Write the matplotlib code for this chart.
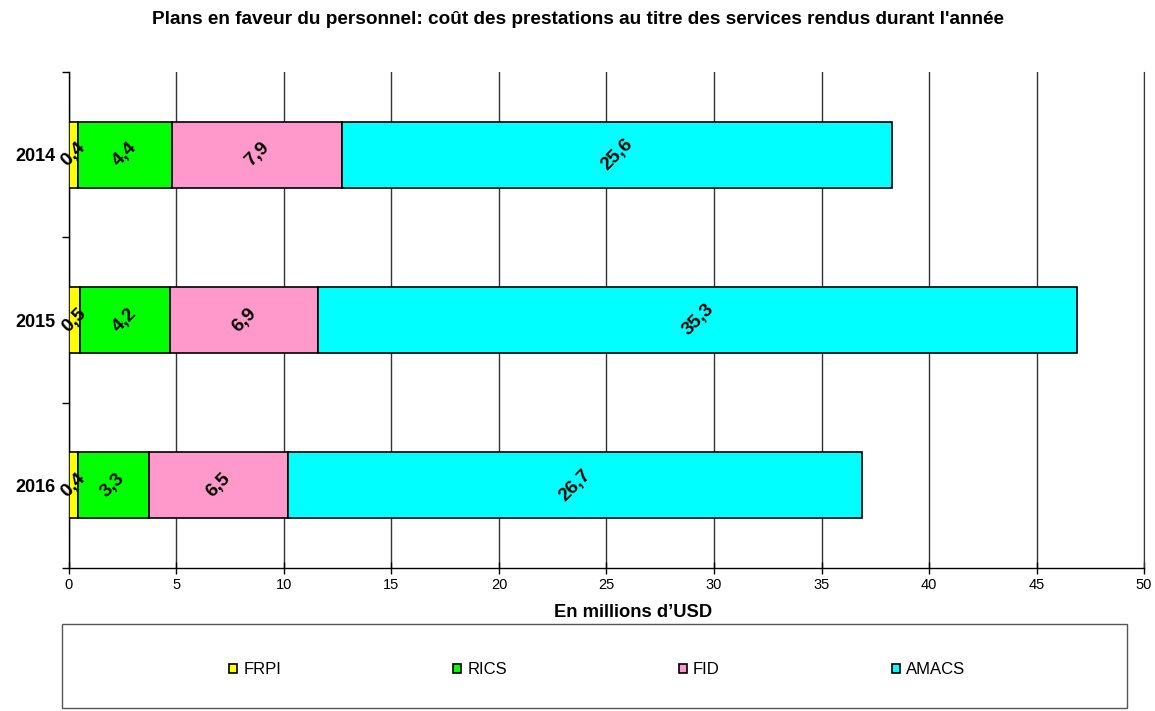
import matplotlib
matplotlib.use("Agg")
import matplotlib.pyplot as plt
from matplotlib.patches import Rectangle
import numpy as np

plt.rcParams["font.family"] = ["Liberation Sans", "DejaVu Sans"]

years = ["2014", "2015", "2016"]
series = ["FRPI", "RICS", "FID", "AMACS"]
frpi = [0.4, 0.5, 0.4]
rics = [4.4, 4.2, 3.3]
fid = [7.9, 6.9, 6.5]
amacs = [25.6, 35.3, 26.7]
colors = ["#ffff00", "#00ff00", "#ff99cc", "#00ffff"]

fig = plt.figure(figsize=(11.55, 7.11), dpi=100)
ax = fig.add_axes([0.0597, 0.2011, 0.9308, 0.6976])

ypos = np.arange(len(years))
left = np.zeros(len(years))
handles = []
for name, vals, c in zip(series, [frpi, rics, fid, amacs], colors):
    vals = np.array(vals)
    bars = ax.barh(ypos, vals, left=left, height=0.4, color=c,
                   edgecolor="black", linewidth=1.2, label=name, zorder=3)
    handles.append(bars)
    for y, l, v in zip(ypos, left, vals):
        ax.text(l + v / 2, y, f"{v:.1f}".replace(".", ","), rotation=45,
                ha="center", va="center", fontsize=13.7, fontweight="bold", zorder=4)
    left += vals

ax.set_xlim(0, 50)
ax.set_ylim(2.5, -0.5)
ax.set_xticks(np.arange(0, 51, 5))
ax.tick_params(axis="x", labelsize=10.5, direction="inout", length=8, width=1)
ax.set_yticks(ypos)
ax.set_yticklabels(years, fontsize=13, fontweight="bold")
ax.tick_params(axis="y", length=0, pad=10)
ax.set_yticks(np.arange(-0.5, 2.6, 1), minor=True)
ax.tick_params(axis="y", which="minor", length=5, width=1)
ax.grid(axis="x", color="#333333", lw=1, zorder=0)
ax.spines["top"].set_visible(False)
ax.spines["right"].set_color("#333333")
ax.spines["left"].set_linewidth(1)
ax.spines["bottom"].set_linewidth(1)
ax.set_xlabel("En millions d\u2019USD", fontsize=13.2, fontweight="bold", labelpad=8)
ax.xaxis.label.set_x(0.525)

fig.text(0.5, 0.972, "Plans en faveur du personnel: coût des prestations au titre des services rendus durant l'année",
         ha="center", va="center", fontsize=13.7, fontweight="bold")

box = Rectangle((62 / 1155, 3 / 711), 1065 / 1155, 84 / 711, transform=fig.transFigure,
                fill=False, edgecolor="#555555", lw=1)
fig.patches.append(box)
fig.legend(handles=handles, labels=series, loc="center", bbox_to_anchor=(597 / 1155, 41 / 711),
           ncol=4, frameon=False, fontsize=12, handlelength=0.5, handleheight=0.5,
           handletextpad=0.35, columnspacing=10.32)

fig.savefig("out.png", dpi=100)
